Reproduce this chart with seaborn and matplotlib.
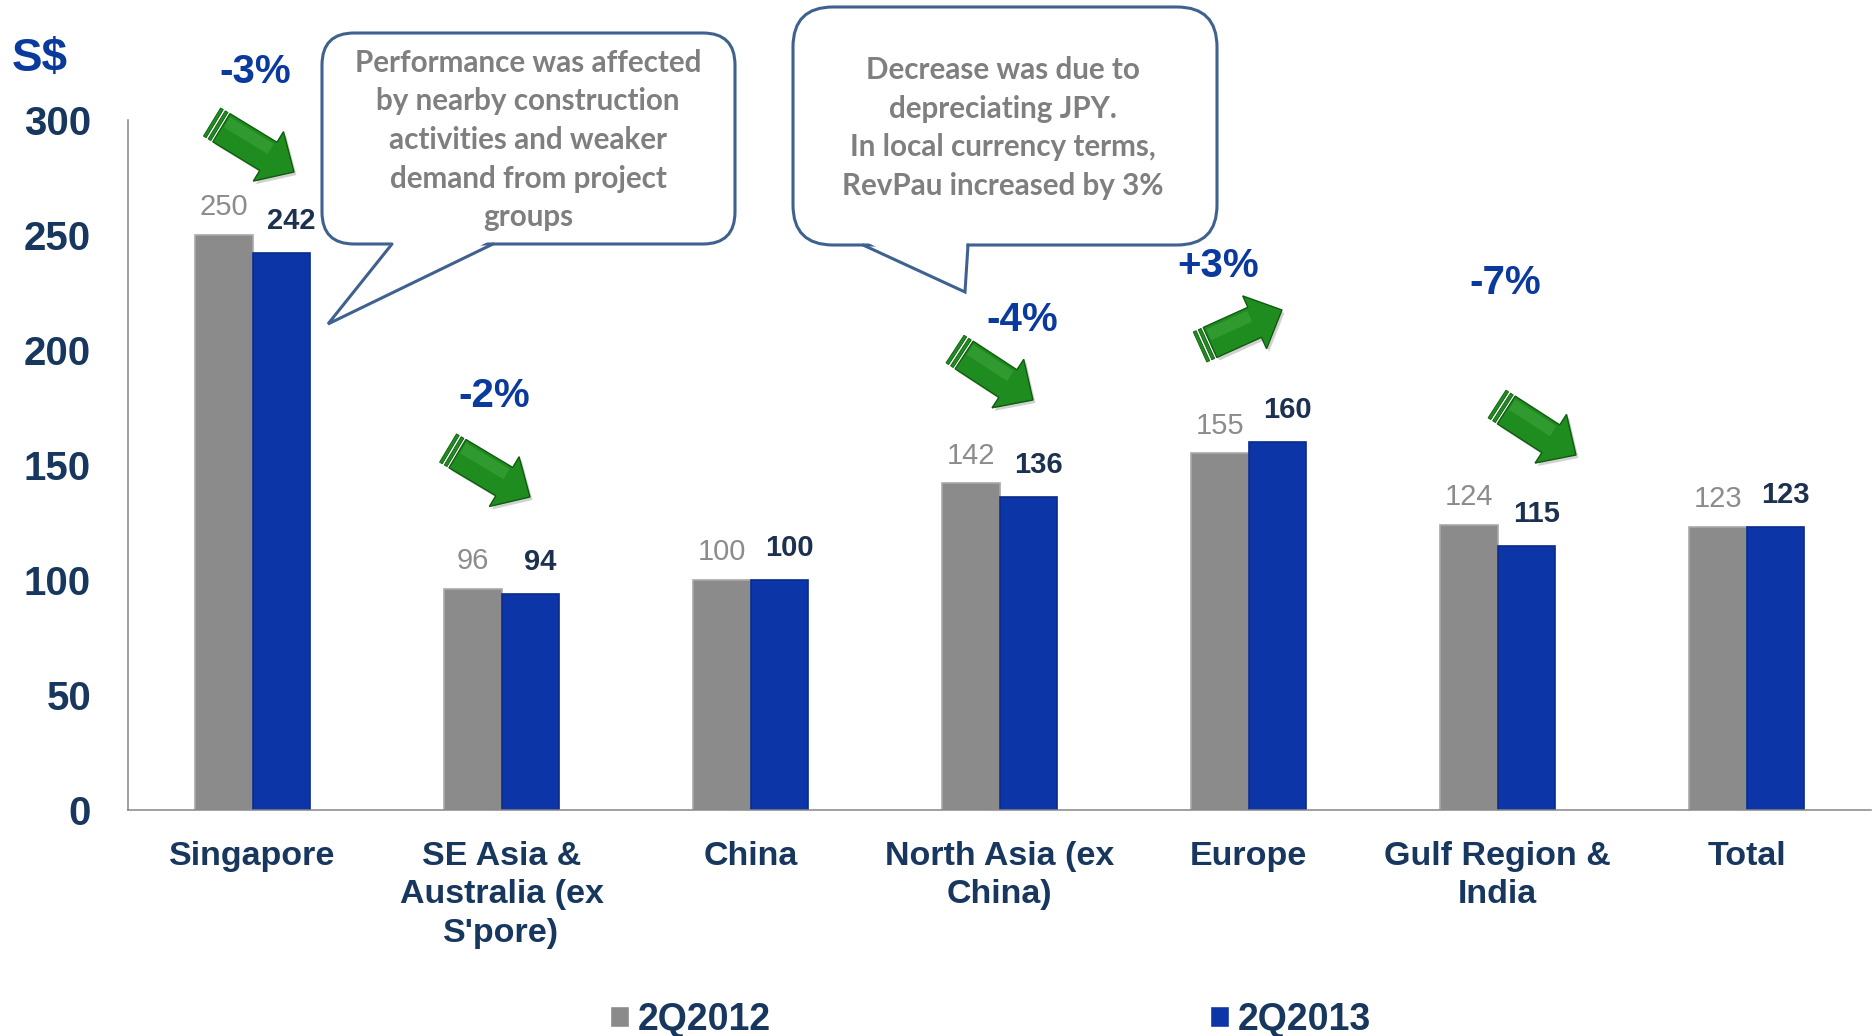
import numpy as np
import pandas as pd
import matplotlib
matplotlib.use("Agg")
import matplotlib.pyplot as plt
import seaborn as sns
from matplotlib.patches import FancyBboxPatch, Polygon
from matplotlib.transforms import IdentityTransform
from matplotlib.ticker import FixedLocator

# ---------------- data ----------------
categories = ["Singapore", "SE Asia &\nAustralia (ex\nS'pore)", "China",
              "North Asia (ex\nChina)", "Europe", "Gulf Region &\nIndia", "Total"]
series = ["2Q2012", "2Q2013"]
rev_2q2012 = [250, 96, 100, 142, 155, 124, 123]
rev_2q2013 = [242, 94, 100, 136, 160, 115, 123]
change_labels = ["-3%", "-2%", "", "-4%", "+3%", "-7%", ""]
y_ticks = [0, 50, 100, 150, 200, 250, 300]
unit_label = "S$"
note_singapore = ("Performance was affected\nby nearby construction\n"
                  "activities and weaker\ndemand from project\ngroups")
note_north_asia = ("Decrease was due to\ndepreciating JPY.\n"
                   "In local currency terms,\nRevPau increased by 3%")

# ---------------- style ----------------
W, H, DPI = 1875, 1036, 100
GRAY, BLUE = "#8b8b8b", "#0c35a8"
NAVY = "#17375E"
PCT_BLUE = "#0b3a9e"
NOTE_GRAY = "#7f7f7f"
BORDER = "#3e6190"
GREEN, GREEN_DK, GREEN_LT = "#1f8c1f", "#0e5c0e", "#45ad45"

sns.set_style("white")
plt.rcParams["font.family"] = ["Liberation Sans", "DejaVu Sans"]

df = pd.DataFrame({
    "Region": categories * 2,
    "Period": [series[0]] * len(categories) + [series[1]] * len(categories),
    "Value": rev_2q2012 + rev_2q2013,
})

fig = plt.figure(figsize=(W / DPI, H / DPI), dpi=DPI)
ax = fig.add_axes([128 / W, 1 - 810 / H, (1871 - 128) / W, (810 - 120) / H])

sns.barplot(data=df, x="Region", y="Value", hue="Period", hue_order=series,
            palette={series[0]: GRAY, series[1]: BLUE}, saturation=1,
            width=0.46, errorbar=None, ax=ax)

edge_cols = ["#a9a9a9", "#0a2b8c"]
for cont, ec in zip(ax.containers, edge_cols):
    for bar in cont:
        bar.set_edgecolor(ec)
        bar.set_linewidth(1.2)

ax.set_xlim(-0.5, len(categories) - 0.5)
ax.set_ylim(0, 300)
ax.yaxis.set_major_locator(FixedLocator(y_ticks))
ax.set_xlabel("")
ax.set_ylabel("")
sns.despine(ax=ax)
for s in ["left", "bottom"]:
    ax.spines[s].set_color("#868686")
    ax.spines[s].set_linewidth(1.1)

ax.tick_params(axis="y", which="major", length=8.6, width=1.1, color="#868686",
               direction="out", pad=18, labelsize=29, labelcolor=NAVY)
for lab in ax.get_yticklabels():
    lab.set_fontweight("bold")

ax.xaxis.set_minor_locator(FixedLocator(np.arange(-0.5, len(categories), 1.0)))
ax.tick_params(axis="x", which="major", length=0, pad=22, labelsize=24.5, labelcolor=NAVY)
ax.tick_params(axis="x", which="minor", length=7.5, width=1.1, color="#868686", direction="out")
ax.set_xticks(range(len(categories)))
ax.set_xticklabels(categories, fontweight="bold", linespacing=1.32)

# value labels
for ci, (cont, vals) in enumerate(zip(ax.containers, [rev_2q2012, rev_2q2013])):
    for bar, v in zip(cont, vals):
        x = bar.get_x() + bar.get_width() / 2
        if ci == 0:
            ax.annotate(f"{v}", (x, v), xytext=(0, 20), textcoords="offset points",
                        ha="center", va="center", fontsize=21, color="#8c8c8c")
        else:
            ax.annotate(f"{v}", (x + 0.04, v), xytext=(0, 23), textcoords="offset points",
                        ha="center", va="center", fontsize=21, color="#1c3050",
                        fontweight="bold")

# percent change labels (positions in data coordinates)
pct_pos = [(0.01, 321), (0.97, 180), None, (3.09, 213), (3.88, 236.5), (5.03, 229), None]
for lab, pos in zip(change_labels, pct_pos):
    if lab and pos:
        ax.text(pos[0], pos[1], lab, ha="center", va="center", fontsize=29,
                fontweight="bold", color=PCT_BLUE, clip_on=False)

# unit label
fig.text(12 / W, 1 - 59 / H, unit_label, ha="left", va="center", fontsize=33,
         fontweight="bold", color=PCT_BLUE)

# ---------------- decorations in pixel coordinates ----------------
ident = IdentityTransform()

def P(x, y):
    return (x, H - y)

def draw_arrow(tail, tip):
    t = np.array(P(*tail), float)
    p = np.array(P(*tip), float)
    d = p - t
    L = np.hypot(*d)
    u = d / L
    v = np.array([-u[1], u[0]])
    hw, hh, hl = 16.5, 29.0, 30.0

    def pt(a, b):
        return t + u * a + v * b

    shaft = [pt(11, -hw), pt(L - hl, -hw), pt(L - hl, -hh), pt(L, 0),
             pt(L - hl, hh), pt(L - hl, hw), pt(11, hw)]
    sh = [s + np.array([2.5, -3.0]) for s in shaft]
    fig.add_artist(Polygon(sh, closed=True, transform=ident, facecolor="#000000",
                           alpha=0.18, edgecolor="none"))
    fig.add_artist(Polygon(shaft, closed=True, transform=ident, facecolor=GREEN,
                           edgecolor=GREEN_DK, linewidth=1.0))
    hi = [pt(13, hw * 0.1), pt(L - hl - 2, hw * 0.1), pt(L - hl - 2, hw - 3), pt(13, hw - 3)]
    fig.add_artist(Polygon(hi, closed=True, transform=ident, facecolor=GREEN_LT,
                           alpha=0.45, edgecolor="none"))
    for a0, a1 in [(0, 3.2), (5.5, 8.7)]:
        stripe = [pt(a0, -hw), pt(a1, -hw), pt(a1, hw), pt(a0, hw)]
        fig.add_artist(Polygon(stripe, closed=True, transform=ident, facecolor=GREEN,
                               edgecolor=GREEN_DK, linewidth=0.6))

arrows = [((212, 122), (294, 172)),
          ((448, 448), (530, 497)),
          ((955, 349), (1033, 400)),
          ((1200, 347), (1282, 310)),
          ((1497, 404), (1576, 455))]
for tail, tip in arrows:
    draw_arrow(tail, tip)

def draw_callout(x0, y0, x1, y1, r, base_a, base_b, tip, text, tx, ty, fs, ls):
    box = FancyBboxPatch(P(x0, y1), x1 - x0, y1 - y0,
                         boxstyle=f"round,pad=0,rounding_size={r}",
                         transform=ident, facecolor="white", edgecolor=BORDER,
                         linewidth=2.2)
    fig.add_artist(box)
    cover = Polygon([P(base_a + 1.5, y1 - 4), P(*tip), P(base_b - 1.5, y1 - 4)],
                    closed=True, transform=ident, facecolor="white", edgecolor="none")
    fig.add_artist(cover)
    xs, ys = zip(P(base_a, y1), P(*tip), P(base_b, y1))
    fig.add_artist(plt.Line2D(xs, ys, transform=ident, color=BORDER, linewidth=2.2,
                              solid_joinstyle="miter"))
    fig.text(*P(tx, ty), text, transform=ident, ha="center", va="center",
             fontsize=fs, fontweight="bold", color=NOTE_GRAY, linespacing=ls,
             family=["Lato", "DejaVu Sans"])

draw_callout(322, 33, 735, 244, 32, 392, 493, (328, 324), note_singapore,
             528, 140, 21.3, 1.46)
draw_callout(793, 7, 1217, 245, 40, 863, 968, (965, 292), note_north_asia,
             1003, 128, 21.3, 1.46)

# legend
handles, labels = ax.get_legend_handles_labels()
if ax.get_legend() is not None:
    ax.get_legend().remove()
leg = ax.legend(handles, labels, loc="center left", bbox_to_anchor=(610 / W, 16 / H),
                bbox_transform=fig.transFigure, ncol=2, frameon=False,
                prop={"size": 27, "weight": "bold"}, labelcolor=NAVY,
                handlelength=0.5, handleheight=0.5, handletextpad=0.25,
                columnspacing=11.7, borderpad=0, borderaxespad=0)

fig.savefig("out.png", dpi=DPI)
